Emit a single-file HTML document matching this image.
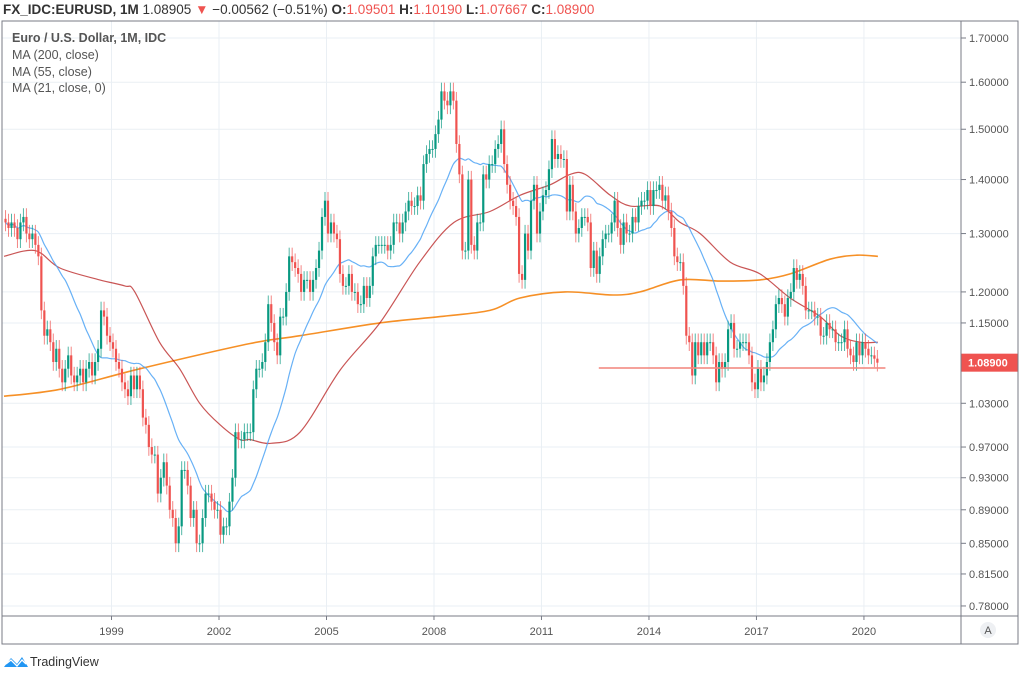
<!DOCTYPE html>
<html><head><meta charset="utf-8">
<style>
body{margin:0;background:#fff;width:1020px;height:675px;overflow:hidden;font-family:"Liberation Sans",sans-serif;}
svg{position:absolute;left:0;top:0}
</style></head>
<body>
<svg id="chart" width="1020" height="675">
  <g id="grid"></g>
  <g id="mas"></g>
  <g id="candles"></g>
  <g id="overlay"></g>
  <rect x="2" y="21" width="1016" height="623" fill="none" stroke="#787b86" stroke-width="1"/>
  <line x1="961" y1="21" x2="961" y2="644" stroke="#787b86"/>
  <line x1="2" y1="616" x2="1018" y2="616" stroke="#787b86"/>
  <g id="yaxis"></g>
  <g id="xaxis"></g>
  <circle cx="988" cy="630" r="8" fill="#eef0f3"/>
  <text x="988" y="634" font-size="11" fill="#555" text-anchor="middle">A</text>
  <text x="3" y="14" font-size="13.5" fill="#333"><tspan font-weight="bold">FX_IDC:EURUSD, 1M</tspan> 1.08905 <tspan fill="#ef5350">▼</tspan> −0.00562 (−0.51%) <tspan font-weight="bold">O:</tspan><tspan fill="#ef5350">1.09501</tspan> <tspan font-weight="bold">H:</tspan><tspan fill="#ef5350">1.10190</tspan> <tspan font-weight="bold">L:</tspan><tspan fill="#ef5350">1.07667</tspan> <tspan font-weight="bold">C:</tspan><tspan fill="#ef5350">1.08900</tspan></text>
  <text x="12" y="42" font-size="12.5" fill="#555" font-weight="bold">Euro / U.S. Dollar, 1M, IDC</text>
  <text x="12" y="59" font-size="12.5" fill="#555">MA (200, close)</text>
  <text x="12" y="76" font-size="12.5" fill="#555">MA (55, close)</text>
  <text x="12" y="92" font-size="12.5" fill="#555">MA (21, close, 0)</text>
  <g>
    <path d="M4 667 L11 658 L17 664 L22 657 L28 667 Z" fill="#2196f3"/>
    <path d="M6 664 L11 660 L17 666 L22 660 L26 664" fill="none" stroke="#fff" stroke-width="1.3"/>
    <text x="30" y="666" font-size="12.5" fill="#333">TradingView</text>
  </g>
</svg>
<script>
const closes = [
1.32,1.31,1.32,1.31,1.29,1.32,1.33,1.30,1.29,1.30,1.28,1.26,
1.17,1.13,1.14,1.12,1.09,1.11,1.08,1.06,1.08,1.10,1.07,1.06,
1.07,1.08,1.06,1.08,1.09,1.07,1.09,1.11,1.17,1.16,1.13,1.12,
1.11,1.09,1.08,1.06,1.05,1.04,1.07,1.05,1.07,1.05,1.01,1.00,
0.97,0.96,0.96,0.91,0.93,0.95,0.92,0.89,0.88,0.85,0.87,0.94,
0.94,0.92,0.88,0.89,0.85,0.85,0.88,0.91,0.91,0.90,0.89,0.89,
0.86,0.87,0.87,0.90,0.93,0.99,0.98,0.98,0.99,0.99,0.99,1.05,
1.08,1.08,1.09,1.12,1.18,1.15,1.12,1.10,1.16,1.16,1.20,1.26,
1.25,1.24,1.23,1.20,1.22,1.22,1.20,1.22,1.24,1.27,1.33,1.36,
1.30,1.32,1.30,1.29,1.23,1.21,1.21,1.23,1.20,1.20,1.18,1.18,
1.21,1.19,1.21,1.26,1.28,1.28,1.28,1.28,1.27,1.28,1.32,1.32,
1.30,1.32,1.34,1.36,1.35,1.35,1.37,1.36,1.43,1.45,1.46,1.46,
1.49,1.52,1.58,1.56,1.55,1.58,1.56,1.47,1.41,1.27,1.27,1.40,
1.28,1.27,1.32,1.32,1.41,1.40,1.43,1.43,1.46,1.47,1.50,1.43,
1.39,1.36,1.35,1.33,1.23,1.22,1.30,1.27,1.36,1.39,1.30,1.34,
1.37,1.38,1.42,1.48,1.44,1.45,1.44,1.44,1.34,1.39,1.34,1.30,
1.31,1.33,1.33,1.32,1.24,1.27,1.23,1.26,1.29,1.30,1.30,1.32,
1.36,1.31,1.28,1.32,1.30,1.30,1.33,1.32,1.35,1.36,1.36,1.38,
1.35,1.38,1.38,1.39,1.36,1.37,1.34,1.31,1.26,1.25,1.25,1.21,
1.13,1.12,1.07,1.12,1.10,1.12,1.10,1.12,1.12,1.10,1.06,1.09,
1.08,1.09,1.14,1.15,1.11,1.11,1.12,1.12,1.12,1.10,1.06,1.05,
1.08,1.06,1.07,1.09,1.12,1.14,1.18,1.19,1.18,1.16,1.19,1.20,
1.24,1.22,1.23,1.21,1.17,1.17,1.17,1.16,1.16,1.13,1.13,1.15,
1.14,1.14,1.12,1.12,1.12,1.14,1.11,1.10,1.09,1.12,1.10,1.12,
1.11,1.10,1.10,1.095,1.089];
const startYear = 1996;
const ma200Dates = [1996.0,1997.56,1999.8,2002.87,2004.26,2006.49,2008.17,2009.56,2010.4,2011.66,2013.0,2013.75,2014.87,2016.0,2017.1,2017.94,2019.05,2019.8,2020.39];
const ma200Vals  = [1.04,1.05,1.08,1.118,1.13,1.15,1.16,1.17,1.19,1.20,1.195,1.20,1.22,1.218,1.22,1.23,1.255,1.262,1.26];
const ma55Dates = [1996.0,1996.87,1997.56,1998.67,1999.37,1999.65,2000.34,2000.9,2001.46,2002.03,2002.59,2002.87,2003.45,2004.26,2005.38,2006.49,2007.6,2008.56,2009.56,2010.4,2011.24,2011.8,2012.22,2012.92,2013.48,2014.31,2014.87,2015.43,2016.27,2017.1,2017.94,2018.78,2019.34,2019.9,2020.39];
const ma55Vals  = [1.26,1.27,1.24,1.22,1.21,1.20,1.12,1.08,1.03,1.00,0.98,0.98,0.975,0.99,1.078,1.15,1.25,1.32,1.34,1.37,1.39,1.41,1.41,1.37,1.35,1.35,1.32,1.30,1.25,1.23,1.19,1.16,1.13,1.12,1.12];
const ma21Window = 21;
const supportLevel = 1.081, supportFrom = 2012.6, supportTo = 2020.6;
const priceTicks = [1.7,1.6,1.5,1.4,1.3,1.2,1.15,1.03,0.97,0.93,0.89,0.85,0.815,0.78];
const yearTicks = [1999,2002,2005,2008,2011,2014,2017,2020];
const lastPrice = 1.089;

const NS="http://www.w3.org/2000/svg";
const PX_LEFT=2, PX_RIGHT=961, PX_TOP=21, PX_BOTTOM=616;
function yS(p){return 38+(Math.log(1.7)-Math.log(p))*729;}
function xT(t){return 219+(t-2002)*35.83;}
function xM(i){return xT(startYear+i/12)+1.5;}
function mk(tag,attrs,parent){const e=document.createElementNS(NS,tag);for(const k in attrs)e.setAttribute(k,attrs[k]);parent.appendChild(e);return e;}
const grid=document.getElementById('grid'), mas=document.getElementById('mas'), cg=document.getElementById('candles'), ov=document.getElementById('overlay'), ya=document.getElementById('yaxis'), xa=document.getElementById('xaxis');

priceTicks.forEach(p=>{
  const y=yS(p);
  const l=mk('line',{x1:PX_LEFT,x2:PX_RIGHT,y1:y,y2:y,stroke:'#eaeff4','stroke-width':1},grid);
  
  
  mk('line',{x1:961,x2:966,y1:y,y2:y,stroke:'#787b86'},ya);
  const t=mk('text',{x:969,y:y+4,'font-size':11,fill:'#555'},ya);
  t.textContent=p.toFixed(5);
  
  
});
yearTicks.forEach(yr=>{
  const x=xT(yr);
  const l=mk('line',{x1:x,x2:x,y1:PX_TOP,y2:PX_BOTTOM,stroke:'#eaeff4','stroke-width':1},grid);
  
  
  mk('line',{x1:x,x2:x,y1:616,y2:620,stroke:'#787b86'},xa);
  const t=mk('text',{x:x,y:635,'font-size':11,fill:'#555','text-anchor':'middle'},xa);
  t.textContent=yr;
  
  
});

function smooth(pts){
  let d='M'+pts[0][0].toFixed(1)+' '+pts[0][1].toFixed(1);
  for(let i=0;i<pts.length-1;i++){
    const p0=pts[Math.max(0,i-1)],p1=pts[i],p2=pts[i+1],p3=pts[Math.min(pts.length-1,i+2)];
    const c1x=p1[0]+(p2[0]-p0[0])/6,c1y=p1[1]+(p2[1]-p0[1])/6;
    const c2x=p2[0]-(p3[0]-p1[0])/6,c2y=p2[1]-(p3[1]-p1[1])/6;
    d+=' C'+c1x.toFixed(1)+' '+c1y.toFixed(1)+' '+c2x.toFixed(1)+' '+c2y.toFixed(1)+' '+p2[0].toFixed(1)+' '+p2[1].toFixed(1);
  }
  return d;
}
function linePath(dates,vals){return smooth(dates.map((d,i)=>[xT(d),yS(vals[i])]));}
const o200=mk('path',{d:linePath(ma200Dates,ma200Vals),fill:'none',stroke:'#f57c00','stroke-width':1.6,'stroke-opacity':0.85},mas);


const o55=mk('path',{d:linePath(ma55Dates,ma55Vals),fill:'none',stroke:'#b71c1c','stroke-width':1.2,'stroke-opacity':0.75},mas);


const p21=closes.map((c,i)=>{const s=Math.max(0,i-ma21Window+1);let sum=0;for(let j=s;j<=i;j++)sum+=closes[j];return [xM(i),yS(sum/(i-s+1))];});
const o21=mk('path',{d:smooth(p21),fill:'none',stroke:'#4da3f5','stroke-width':1.2,'stroke-opacity':0.85},mas);



closes.forEach((c,i)=>{
  const o=i?closes[i-1]:c*1.005;
  const up=c>=o, col=up?'#089981':'#ef5350';
  const hi=Math.max(o,c)*1.012, lo=Math.min(o,c)*0.988;
  const x=xM(i);
  const g=mk('g',{},cg);
  
  
  mk('line',{x1:x,x2:x,y1:yS(hi),y2:yS(lo),stroke:col,'stroke-width':1,'stroke-opacity':0.7},g);
  const yt=yS(Math.max(o,c)), yb=yS(Math.min(o,c));
  mk('rect',{x:x-1.1,y:yt,width:2.2,height:Math.max(1,yb-yt),fill:col},g);
});

const sl=mk('line',{x1:xT(supportFrom),x2:xT(supportTo),y1:yS(supportLevel),y2:yS(supportLevel),stroke:'#f28b82','stroke-width':2,'stroke-opacity':0.8},ov);


const ly=yS(lastPrice);
const lb=mk('rect',{x:961,y:ly-9,width:57,height:18,fill:'#ef5350'},ov);


const lt=mk('text',{x:968,y:ly+4,'font-size':11,fill:'#fff','font-weight':'bold'},ov);
lt.textContent=lastPrice.toFixed(5);


</script>
</body></html>
